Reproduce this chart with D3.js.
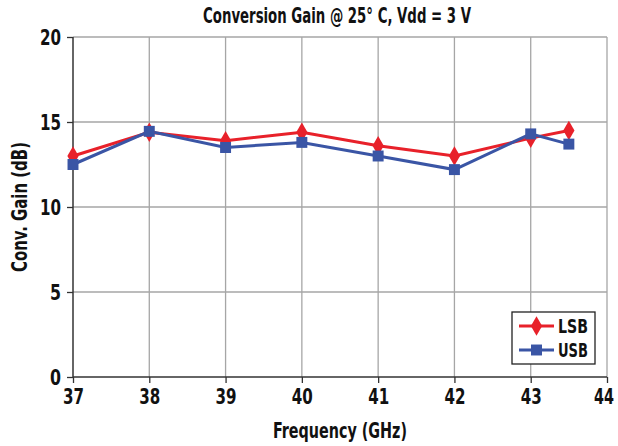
<!DOCTYPE html>
<html><head><meta charset="utf-8">
<script src="https://cdn.jsdelivr.net/npm/d3@7"></script>
<style>
body{margin:0;background:#fff;}
text{font-family:"DejaVu Sans",sans-serif;font-stretch:condensed;font-weight:bold;fill:#111;}
</style></head>
<body><svg id="c" width="618" height="446"></svg>
<script>
const freqs = [37, 38, 39, 40, 41, 42, 43, 43.5];
const lsb = [13.0, 14.4, 13.9, 14.4, 13.6, 13.0, 14.05, 14.5];
const usb = [12.5, 14.45, 13.5, 13.8, 13.0, 12.2, 14.3, 13.7];
const xTicks = [37, 38, 39, 40, 41, 42, 43, 44];
const yTicks = [0, 5, 10, 15, 20];
const seriesNames = ["LSB", "USB"];
const colors = ["#E8212A", "#3A55A5"];

const svg = d3.select("#c");
const x = d3.scaleLinear().domain([37, 44]).range([73, 607]);
const y = d3.scaleLinear().domain([0, 20]).range([377, 37]);

// gridlines
svg.append("g").selectAll("line").data(xTicks.slice(1)).join("line")
  .attr("x1", d => x(d)).attr("x2", d => x(d)).attr("y1", y(0)).attr("y2", y(20))
  .attr("stroke", "#a6a6a6").attr("stroke-width", 1.3);
svg.append("g").selectAll("line").data(yTicks.slice(1)).join("line")
  .attr("x1", x(37)).attr("x2", x(44)).attr("y1", d => y(d)).attr("y2", d => y(d))
  .attr("stroke", "#a6a6a6").attr("stroke-width", 1.3);

// axes
const xAxis = svg.append("g").attr("transform", `translate(0,${y(0)})`)
  .call(d3.axisBottom(x).tickValues(xTicks).tickSize(6).tickPadding(5).tickFormat(d3.format("d")));
const yAxis = svg.append("g").attr("transform", `translate(${x(37)},0)`)
  .call(d3.axisLeft(y).tickValues(yTicks).tickSize(6).tickPadding(6));
[xAxis, yAxis].forEach(a => {
  a.select(".domain").attr("stroke", "#333").attr("stroke-width", 1.5);
  a.selectAll(".tick line").attr("stroke", "#333").attr("stroke-width", 1.3);
  a.selectAll("text").style("font-size", "22px").attr("fill", "#111");
});
xAxis.select(".domain").attr("d", `M${x(37)},0H${x(44)}`);
yAxis.select(".domain").attr("d", `M0,${y(0)}V${y(20)}`);
xAxis.selectAll("text").attr("textLength", d => d === 44 ? 20 : 21).attr("lengthAdjust", "spacingAndGlyphs")
  .attr("dx", d => d === 44 ? -3.5 : 0);
yAxis.selectAll("text").each(function(d){ d3.select(this).attr("textLength", d >= 10 ? 21 : 11).attr("lengthAdjust", "spacingAndGlyphs"); });

// title & axis labels
svg.append("text").attr("x", 337).attr("y", 23).attr("text-anchor", "middle")
  .attr("textLength", 268).attr("lengthAdjust", "spacingAndGlyphs")
  .style("font-size", "22px").text("Conversion Gain @ 25° C, Vdd = 3 V");
svg.append("text").attr("x", 340).attr("y", 438).attr("text-anchor", "middle")
  .attr("textLength", 134).attr("lengthAdjust", "spacingAndGlyphs")
  .style("font-size", "22px").text("Frequency (GHz)");
svg.append("text").attr("transform", `translate(27,${207}) rotate(-90)`).attr("text-anchor", "middle")
  .attr("textLength", 130).attr("lengthAdjust", "spacingAndGlyphs")
  .style("font-size", "22px").text("Conv. Gain (dB)");

// series
const data = [lsb, usb];
const line = d3.line().x((d, i) => x(freqs[i])).y(d => y(d));
const diamond = d3.symbol().type(d3.symbolDiamond).size(110);
const square = d3.symbol().type(d3.symbolSquare).size(120);
const symbols = [diamond, square];

data.forEach((vals, k) => {
  svg.append("path").datum(vals).attr("d", line).attr("fill", "none")
    .attr("stroke", colors[k]).attr("stroke-width", 3);
});
data.forEach((vals, k) => {
  svg.append("g").selectAll("path").data(vals).join("path")
    .attr("d", symbols[k]).attr("fill", colors[k])
    .attr("transform", (d, i) => `translate(${x(freqs[i])},${y(d)})`);
});

// legend
const lg = svg.append("g");
lg.append("rect").attr("x", 512).attr("y", 312).attr("width", 83).attr("height", 52)
  .attr("fill", "#fff").attr("stroke", "#222").attr("stroke-width", 1.3);
seriesNames.forEach((n, k) => {
  const ly = 326 + k * 24;
  lg.append("line").attr("x1", 519).attr("x2", 554).attr("y1", ly).attr("y2", ly)
    .attr("stroke", colors[k]).attr("stroke-width", 3);
  lg.append("path").attr("d", symbols[k]).attr("fill", colors[k])
    .attr("transform", `translate(536.5,${ly})`);
  lg.append("text").attr("x", 558).attr("y", ly + 7).attr("textLength", 30)
    .attr("lengthAdjust", "spacingAndGlyphs").style("font-size", "20px").text(n);
});
</script></body></html>
